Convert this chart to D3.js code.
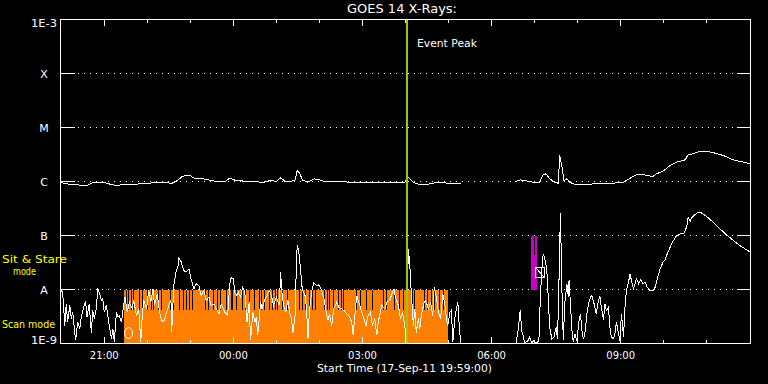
<!DOCTYPE html>
<html><head><meta charset="utf-8">
<script src="https://cdn.jsdelivr.net/npm/d3@7"></script>
<style>
html,body{margin:0;padding:0;background:#000;}
svg{display:block;background:#000;}
text{font-family:"DejaVu Sans",sans-serif;}
</style></head><body>
<svg id="chart" width="768" height="384"></svg>
<script>
// ---------------- DATA ----------------
const titleText = "GOES 14 X-Rays:";
const xAxisTitle = "Start Time (17-Sep-11 19:59:00)";
const startTime = Date.UTC(2011, 8, 17, 19, 59, 0);   // plot start
const spanMinutes = 962;                              // plot length (minutes)

const yTickValues = [1e-9, 1e-8, 1e-7, 1e-6, 1e-5, 1e-4, 1e-3];
const yTickLabels = ["1E-9", "A", "B", "C", "M", "X", "1E-3"];
const gridLevels = [1e-8, 1e-7, 1e-6, 1e-5, 1e-4];

// time ticks: minutes after start
const majorTickMin = [61, 241, 421, 601, 781];          // 21:00 00:00 03:00 06:00 09:00
const minorTickMin = [121, 181, 301, 361, 481, 541, 661, 721, 841, 901];

// GOES long channel (1-8 A), [minutes after start, W/m^2]
const longChannel = [[0,9.6e-7],[13,8.8e-7],[27,8.6e-7],[36,8.4e-7],[47,9.7e-7],[59,9.7e-7],[68,9.0e-7],[77,8.5e-7],[96,8.9e-7],[124,9.1e-7],
[128,9.7e-7],[138,9.4e-7],[148,9.5e-7],[155,9.2e-7],[163,1.04e-6],[170,1.25e-6],[180,1.30e-6],[187,1.14e-6],[201,1.11e-6],[215,1.01e-6],
[229,9.9e-7],[236,1.15e-6],[243,1.06e-6],[257,1.01e-6],[273,1.0e-6],[282,9.5e-7],[292,1.04e-6],[301,1.01e-6],[307,1.17e-6],[313,1.01e-6],
[322,1.01e-6],[327,1.07e-6],[330,1.60e-6],[334,1.39e-6],[337,1.07e-6],[345,9.7e-7],[354,1.12e-6],[361,1.07e-6],[368,1.0e-6],[394,9.9e-7],
[403,9.7e-7],[427,9.5e-7],[441,9.6e-7],[459,9.5e-7],[480,9.6e-7],[485,1.20e-6],[492,9.7e-7],[496,9.1e-7],[506,8.7e-7],[517,9.1e-7],
[524,9.6e-7],[543,9.3e-7],[559,9.1e-7],[596,null],
[634,1.0e-6],[641,1.07e-6],[648,1.04e-6],[659,9.7e-7],[668,9.7e-7],[673,1.33e-6],[677,1.39e-6],[682,1.12e-6],[689,9.7e-7],[694,9.3e-7],
[696,3.03e-6],[699,1.98e-6],[702,1.04e-6],[706,1.12e-6],[710,9.7e-7],[717,8.8e-7],[734,8.8e-7],[752,9.3e-7],[771,9.3e-7],[785,9.7e-7],
[794,1.15e-6],[803,1.33e-6],[813,1.33e-6],[826,1.24e-6],[831,1.39e-6],[840,1.55e-6],[850,1.98e-6],[859,2.28e-6],[871,2.52e-6],[875,3.16e-6],
[882,3.26e-6],[892,3.64e-6],[901,3.64e-6],[913,3.34e-6],[924,3.03e-6],[938,2.52e-6],[952,2.28e-6],[962,2.13e-6]];

// GOES short channel (0.5-4 A), [minutes after start, W/m^2]
const shortChannel = [[1,9.6e-9],[3,8.9e-9],[6,2.15e-9],[8,5.4e-9],[10,2.5e-9],[13,5.1e-9],[15,2.9e-9],[17,3.8e-9],[21,1.14e-9],[24,2.5e-9],
[27,1.9e-9],[29,3.1e-9],[33,5.1e-9],[35,5.8e-9],[37,3.1e-9],[40,5.4e-9],[43,1.6e-9],[45,4.1e-9],[47,2.9e-9],[50,4.4e-9],
[52,1.06e-8],[54,8.9e-9],[57,6.3e-9],[59,6.7e-9],[61,3.8e-9],[64,5.1e-9],[66,3.3e-9],[68,2.15e-9],[71,1.22e-9],[73,1.87e-9],
[75,1.06e-9],[78,3.8e-9],[80,3.1e-9],[82,3.3e-9],[85,2.5e-9],[88,5.1e-9],[90,7.2e-9],[93,3.8e-9],[96,5.8e-9],[100,4.4e-9],
[102,6.3e-9],[106,3.3e-9],[109,4.4e-9],[112,1.06e-9],[113,2.15e-9],[116,6.3e-9],[120,4.4e-9],[123,9.6e-9],[126,5.8e-9],[129,1.03e-8],
[131,5.1e-9],[135,8.3e-9],[138,3.8e-9],[141,2.7e-9],[144,2.5e-9],[148,3.8e-9],[151,5.1e-9],[154,6.3e-9],[155,1.6e-9],[158,1.19e-8],
[161,2.1e-8],[164,2.8e-8],[165,3.8e-8],[168,3.3e-8],[172,2.25e-8],[175,2.1e-8],[179,2.4e-8],[182,1.58e-8],[186,1.03e-8],[189,1.28e-8],
[193,1.19e-8],[196,7.7e-9],[200,9.6e-9],[203,6.3e-9],[207,7.2e-9],[210,5.1e-9],[214,5.4e-9],[217,4.4e-9],[221,3.55e-9],[224,5.4e-9],
[229,3.8e-9],[233,3.3e-9],[236,1.28e-8],[238,1.65e-8],[241,1.58e-8],[243,8.9e-9],[245,7.7e-9],[248,8.9e-9],[251,7.2e-9],[254,1.1e-8],
[257,8.9e-9],[260,2.5e-9],[263,5.8e-9],[265,1.14e-9],[268,3.8e-9],[271,2.5e-9],[273,3.1e-9],[275,1.41e-9],[279,5.8e-9],[281,4.4e-9],
[285,6.7e-9],[288,7.7e-9],[291,9.6e-9],[294,7.7e-9],[297,5.1e-9],[301,7.2e-9],[305,5.1e-9],[307,2.1e-8],[308,1.03e-8],[311,5.1e-9],
[314,3.8e-9],[317,6.3e-9],[320,3.55e-9],[322,2.9e-9],[324,1.6e-9],[327,3.3e-9],[329,3.2e-8],[330,6.5e-8],[332,5.3e-8],[335,2.1e-8],
[337,1.03e-8],[341,7.7e-9],[343,4.4e-9],[345,1.22e-9],[347,3.8e-9],[350,8.9e-9],[353,1.33e-8],[357,1.19e-8],[360,1.22e-8],[364,9.6e-9],
[367,7.2e-9],[370,4.1e-9],[373,2.7e-9],[375,3.55e-9],[378,2.15e-9],[381,4.4e-9],[385,5.8e-9],[388,4.7e-9],[392,4.4e-9],[395,4.1e-9],
[399,3.55e-9],[402,3.3e-9],[406,2.5e-9],[408,1.41e-9],[410,2.9e-9],[413,7.7e-9],[416,5.8e-9],[420,3.8e-9],[423,2.9e-9],[426,2.15e-9],
[429,3.3e-9],[432,3.8e-9],[435,2.15e-9],[438,2.9e-9],[441,1.41e-9],[443,2.5e-9],[445,3.3e-9],[448,5.1e-9],[452,4.4e-9],[455,5.8e-9],
[459,6.3e-9],[462,8.3e-9],[465,1.03e-8],[467,7.2e-9],[471,5.1e-9],[474,2.9e-9],[477,3.8e-9],[480,2.15e-9],[482,1.06e-9],[485,5.7e-8],
[487,2.8e-8],[489,8.9e-9],[492,2.15e-9],[494,4.4e-9],[496,1.6e-9],[499,2.9e-9],[501,1.87e-9],[503,3.3e-9],[507,5.8e-9],[509,6.3e-9],
[513,4.4e-9],[516,5.8e-9],[519,3.3e-9],[521,1.1e-8],[524,7.2e-9],[527,3.8e-9],[530,2.9e-9],[533,8.3e-9],[536,5.1e-9],[538,2.9e-9],
[540,2.15e-9],[543,3.8e-9],[545,4.1e-9],[547,1.06e-9],[550,3.1e-9],[552,4.4e-9],[554,5.8e-9],[555,3.3e-9],[557,1.41e-9],[558,1.0e-9],
[596,null],
[635,1.0e-9],[638,1.74e-9],[641,4.2e-9],[643,1.74e-9],[645,1.41e-9],[647,1.0e-9],[652,1.14e-9],[654,1.31e-9],[657,1.0e-9],[659,1.14e-9],
[663,1.0e-9],[667,1.14e-9],[669,7.2e-9],[671,2.25e-8],[673,4.6e-8],[676,3.4e-8],[678,2.25e-8],[680,7.2e-9],[682,2.0e-9],[685,1.22e-9],
[688,1.31e-9],[691,2.0e-9],[693,1.22e-9],[695,1.47e-8],[697,2.6e-7],[699,1.1e-8],[701,1.14e-9],[703,5.4e-9],[706,1.28e-8],[708,7.2e-9],
[709,1.47e-8],[711,5.4e-9],[713,1.74e-9],[715,1.06e-9],[717,1.51e-9],[720,1.14e-9],[723,2.7e-9],[725,3.55e-9],[727,1.74e-9],[729,1.22e-9],
[731,1.51e-9],[734,3.55e-9],[736,5.4e-9],[739,7.2e-9],[741,7.7e-9],[744,5.4e-9],[747,3.55e-9],[749,5.4e-9],[752,7.7e-9],[754,4.7e-9],
[757,2.7e-9],[759,5.4e-9],[761,4.1e-9],[764,4.7e-9],[766,2.0e-9],[768,1.31e-9],[771,1.22e-9],[773,1.51e-9],[775,2.5e-9],[778,1.51e-9],
[780,1.14e-9],[782,3.55e-9],[785,1.31e-9],[787,4.7e-9],[789,9.6e-9],[792,1.37e-8],[794,1.95e-8],[796,1.47e-8],[799,1.03e-8],[801,1.28e-8],
[803,1.58e-8],[806,1.28e-8],[809,1.51e-8],[812,1.28e-8],[815,1.37e-8],[818,1.1e-8],[822,9.6e-9],[826,9.6e-9],[829,1.1e-8],[832,1.58e-8],
[836,2.4e-8],[840,3.2e-8],[843,3.55e-8],[846,4.6e-8],[850,6.1e-8],[854,7.8e-8],[859,1.0e-7],[864,1.07e-7],[869,1.1e-7],[873,1.43e-7],
[875,2.13e-7],[878,1.84e-7],[880,2.13e-7],[887,2.6e-7],[892,2.7e-7],[896,2.5e-7],[903,2.13e-7],[910,1.76e-7],[917,1.43e-7],[927,1.07e-7],
[938,8.1e-8],[947,6.5e-8],[957,5.4e-8],[962,4.9e-8]];

// observing modes
const scanMode = {start: 88, end: 540, low: 1e-9, high: 1e-8, gapLow: 4.1e-9};
const scanGaps = [92,95,99,102,110,114,121,127,129,137,141,154,158,166,171,176,180,184,202,206,214,219,223,231,238,240,245,254,258,263,
270,277,280,285,292,295,300,303,310,317,328,333,337,341,347,351,356,368,372,375,380,387,392,395,413,418,427,435,450,454,466,472,478,
491,494,508,511,517,522,529,534];
const sitStare = {start: 656, end: 664, low: 1e-8, high: 1e-7, gapLow: 4.3e-8};
const sitStareGaps = [661];

const eventPeakMin = 483;
const markerMin = [95, 668];
const markerFlux = [1.56e-9, 2.07e-8];
const markerShape = ["ellipse", "box"];

// ---------------- DRAW ----------------
const svg = d3.select("#chart");
const W = 768, H = 384;
const pL = 60.5, pR = 750.5, pT = 19.5, pB = 343.5;
const toDate = m => new Date(startTime + m * 60000);

const x = d3.scaleUtc().domain([toDate(0), toDate(spanMinutes)]).range([pL, pR]);
const y = d3.scaleLog().domain([1e-9, 1e-3]).range([pB, pT]);
const px = v => Math.round(v - 0.5) + 0.5;

svg.append("rect").attr("width", W).attr("height", H).attr("fill", "#000");

svg.append("defs").append("clipPath").attr("id", "plotclip")
  .append("rect").attr("x", pL).attr("y", pT).attr("width", pR - pL).attr("height", pB - pT);

// dotted grid
svg.append("g").selectAll("line").data(gridLevels).join("line")
  .attr("x1", 78).attr("x2", 737)
  .attr("y1", d => px(y(d))).attr("y2", d => px(y(d)))
  .attr("stroke", "#fff").attr("stroke-width", 1)
  .attr("stroke-dasharray", "1 5").attr("shape-rendering", "crispEdges");

const plot = svg.append("g").attr("clip-path", "url(#plotclip)");

// scan mode (orange)
plot.append("rect")
  .attr("x", x(toDate(scanMode.start))).attr("y", y(scanMode.high))
  .attr("width", x(toDate(scanMode.end)) - x(toDate(scanMode.start)))
  .attr("height", y(scanMode.low) - y(scanMode.high))
  .attr("fill", "#ff8000").attr("shape-rendering", "crispEdges");
plot.append("g").selectAll("line").data(scanGaps).join("line")
  .attr("x1", d => px(x(toDate(d)))).attr("x2", d => px(x(toDate(d))))
  .attr("y1", y(scanMode.high)).attr("y2", y(scanMode.gapLow))
  .attr("stroke", "#000").attr("stroke-width", 1).attr("shape-rendering", "crispEdges");

// sit & stare (magenta)
plot.append("rect")
  .attr("x", x(toDate(sitStare.start))).attr("y", y(sitStare.high))
  .attr("width", x(toDate(sitStare.end)) - x(toDate(sitStare.start)))
  .attr("height", y(sitStare.low) - y(sitStare.high))
  .attr("fill", "#cc00cc").attr("shape-rendering", "crispEdges");
plot.append("g").selectAll("line").data(sitStareGaps).join("line")
  .attr("x1", d => px(x(toDate(d)))).attr("x2", d => px(x(toDate(d))))
  .attr("y1", y(sitStare.high)).attr("y2", y(sitStare.gapLow))
  .attr("stroke", "#000").attr("stroke-width", 1).attr("shape-rendering", "crispEdges");

// curves
const line = d3.line()
  .defined(d => d[1] != null)
  .x(d => x(toDate(d[0])))
  .y(d => y(Math.max(d[1], 1e-9)));
[longChannel, shortChannel].forEach(series => {
  plot.append("path").datum(series).attr("d", line)
    .attr("fill", "none").attr("stroke", "#fff").attr("stroke-width", 1)
    .attr("shape-rendering", "crispEdges");
});

// markers
markerMin.forEach((m, i) => {
  const cx = x(toDate(m)), cy = y(markerFlux[i]);
  if (markerShape[i] === "ellipse") {
    plot.append("ellipse").attr("cx", cx).attr("cy", cy).attr("rx", 4).attr("ry", 5.5)
      .attr("fill", "none").attr("stroke", "#fff").attr("stroke-width", 1);
  } else {
    const s = 4.5;
    plot.append("rect").attr("x", px(cx - s)).attr("y", px(cy - 5)).attr("width", 9).attr("height", 10)
      .attr("fill", "none").attr("stroke", "#fff").attr("stroke-width", 1).attr("shape-rendering", "crispEdges");
    plot.append("line").attr("x1", px(cx - s)).attr("y1", px(cy - 5)).attr("x2", px(cx + s)).attr("y2", px(cy + 5))
      .attr("stroke", "#fff").attr("stroke-width", 1).attr("shape-rendering", "crispEdges");
  }
});

// event peak line
const xp = x(toDate(eventPeakMin));
svg.append("line").attr("x1", xp).attr("x2", xp).attr("y1", pT).attr("y2", pB)
  .attr("stroke", "#99cc00").attr("stroke-width", 2).attr("shape-rendering", "crispEdges");
svg.append("text").attr("x", xp + 10).attr("y", 46.5).attr("fill", "#fff")
  .attr("font-size", 11).attr("textLength", 60).attr("lengthAdjust", "spacingAndGlyphs").text("Event Peak");

// frame
svg.append("rect").attr("x", pL).attr("y", pT).attr("width", pR - pL).attr("height", pB - pT)
  .attr("fill", "none").attr("stroke", "#fff").attr("stroke-width", 1).attr("shape-rendering", "crispEdges");

// x axes
function styleAxis(g) {
  g.select(".domain").remove();
  g.selectAll("line").attr("stroke", "#fff").attr("shape-rendering", "crispEdges");
  g.selectAll("text").attr("fill", "#fff").attr("font-size", 10).attr("font-family", "DejaVu Sans");
}
svg.append("g").attr("transform", `translate(0,${pB})`)
  .call(d3.axisBottom(x).tickValues(majorTickMin.map(toDate)).tickSize(-6.5).tickPadding(8)
    .tickFormat(d3.utcFormat("%H:%M")).offset(0))
  .call(styleAxis);
svg.append("g").attr("transform", `translate(0,${pB})`)
  .call(d3.axisBottom(x).tickValues(minorTickMin.map(toDate)).tickSize(-3.5).tickFormat("").offset(0))
  .call(styleAxis);
svg.append("g").attr("transform", `translate(0,${pT})`)
  .call(d3.axisTop(x).tickValues(majorTickMin.map(toDate)).tickSize(-6.5).tickFormat("").offset(0))
  .call(styleAxis);
svg.append("g").attr("transform", `translate(0,${pT})`)
  .call(d3.axisTop(x).tickValues(minorTickMin.map(toDate)).tickSize(-3.5).tickFormat("").offset(0))
  .call(styleAxis);

// y axes ticks
svg.append("g").attr("transform", `translate(${pL},0)`)
  .call(d3.axisLeft(y).tickValues(gridLevels).tickSize(-14).tickFormat("").offset(0))
  .call(styleAxis);
svg.append("g").attr("transform", `translate(${pR},0)`)
  .call(d3.axisRight(y).tickValues(gridLevels).tickSize(-14).tickFormat("").offset(0))
  .call(styleAxis);

// y labels
svg.append("g").selectAll("text").data(yTickValues).join("text")
  .attr("x", 44).attr("text-anchor", "middle").attr("fill", "#fff").attr("font-size", 11)
  .attr("y", (d, i) => {
    const yy = y(d);
    if (i === 0) return yy;
    if (i === yTickValues.length - 1) return yy + 7.5;
    return yy + 4;
  })
  .attr("textLength", (d, i) => yTickLabels[i].length > 1 ? 26 : null)
  .attr("lengthAdjust", "spacingAndGlyphs")
  .text((d, i) => yTickLabels[i]);

// title & axis title
svg.append("text").attr("x", 347).attr("y", 13.3).attr("fill", "#fff").attr("font-size", 11.5)
  .attr("textLength", 110).attr("lengthAdjust", "spacingAndGlyphs").text(titleText);
svg.append("text").attr("x", 317).attr("y", 372).attr("fill", "#fff").attr("font-size", 10.5)
  .attr("textLength", 175).attr("lengthAdjust", "spacingAndGlyphs").text(xAxisTitle);

// mode labels
const modeLabels = [["Sit & Stare", 2, 262.5, 65], ["mode", 13, 275, 23], ["Scan mode", 2, 328, 53]];
svg.append("g").selectAll("text").data(modeLabels).join("text")
  .attr("x", d => d[1]).attr("y", d => d[2]).attr("textLength", d => d[3])
  .attr("lengthAdjust", "spacingAndGlyphs")
  .attr("fill", "#ffff00").attr("font-size", 11).text(d => d[0]);
</script>
</body></html>
